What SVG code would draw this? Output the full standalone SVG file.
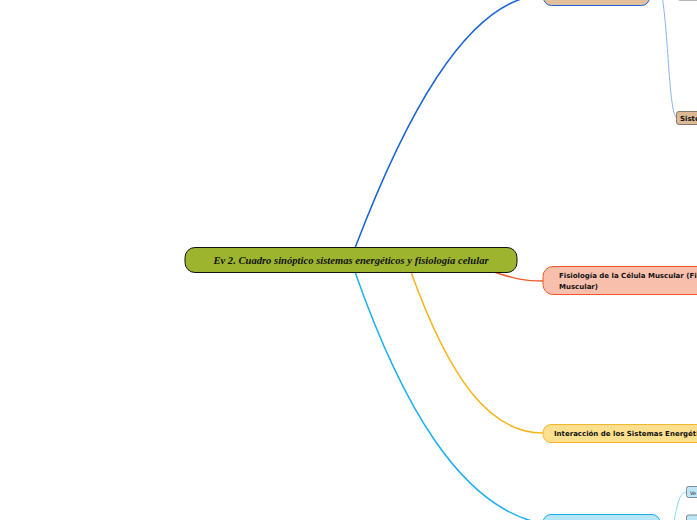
<svg xmlns="http://www.w3.org/2000/svg" width="697" height="520" viewBox="0 0 697 520">
<style>
.c{fill:none;stroke-linecap:round}
.t{font-family:"DejaVu Sans",Verdana,sans-serif;font-weight:bold;font-size:7px;fill:#111}
.ct{font-family:"Liberation Serif","Times New Roman",serif;font-weight:bold;font-style:italic;font-size:10.6px;fill:#111}
</style>
<rect width="697" height="520" fill="#fff"/>
<g id="connectors">
<path class="c" d="M355,248 C400,130 465,-5 545,-5" stroke="#1a64d6" stroke-width="1.5"/>
<path class="c" d="M662,-5 C669,40 669,118 677,118" stroke="#8ab4f0" stroke-width="1"/>
<path class="c" d="M494,272 C515,279 525,281 543,281" stroke="#f05a28" stroke-width="1.5"/>
<path class="c" d="M411,272 C450,380 490,433 543,433" stroke="#f9b31b" stroke-width="1.5"/>
<path class="c" d="M355,272 C400,400 460,510 545,524" stroke="#1ab0ef" stroke-width="1.5"/>
<path class="c" d="M674,522 C678,500 680,492 687,492" stroke="#8fd6f2" stroke-width="1"/>
</g>
<g id="node-top">
<rect x="543.5" y="-20" width="106" height="25.5" rx="8" fill="#e3bf9d" stroke="#1a64d6" stroke-width="1"/>
</g>
<g id="node-top-right">
<rect x="678" y="-14" width="30" height="14.5" rx="2" fill="#fff" stroke="#b8b8b8" stroke-width="1"/>
</g>
<g id="node-sistemas">
<rect x="676.5" y="111.5" width="30" height="13" rx="2.5" fill="#dcb896" stroke="#8a7a6a" stroke-width="1"/>
<text class="t" x="680" y="121">Sistemas</text>
</g>
<g id="node-central">
<rect x="185" y="247.5" width="332" height="25" rx="10" fill="#9db52e" stroke="#111" stroke-width="1"/>
<text class="ct" x="351" y="264" text-anchor="middle">Ev 2. Cuadro sinóptico sistemas energéticos y fisiología celular</text>
</g>
<g id="node-fisiologia">
<rect x="543" y="266.5" width="170" height="28" rx="10" fill="#f8bfad" stroke="#f05a28" stroke-width="1"/>
<text class="t" x="559" y="278">Fisiología de la Célula Muscular (Fibra</text>
<text class="t" x="559" y="288.5">Muscular)</text>
</g>
<g id="node-interaccion">
<rect x="543" y="424.5" width="170" height="18" rx="8" fill="#fde08e" stroke="#f5b731" stroke-width="1"/>
<text class="t" x="554" y="436">Interacción de los Sistemas Energéticos</text>
</g>
<g id="node-bottom">
<rect x="543" y="514.5" width="117" height="20" rx="8" fill="#b6e6f8" stroke="#1ab0ef" stroke-width="1"/>
</g>
<g id="node-ve">
<rect x="686.5" y="486.5" width="20" height="11" rx="2" fill="#bfe6f6" stroke="#7a8a94" stroke-width="1"/>
<text class="t" x="690" y="494.5" style="font-size:5px;font-weight:normal">Ve</text>
</g>
<g id="node-bottom-right">
<rect x="686.5" y="515" width="20" height="11" rx="2" fill="#bfe6f6" stroke="#7a8a94" stroke-width="1"/>
</g>
</svg>
